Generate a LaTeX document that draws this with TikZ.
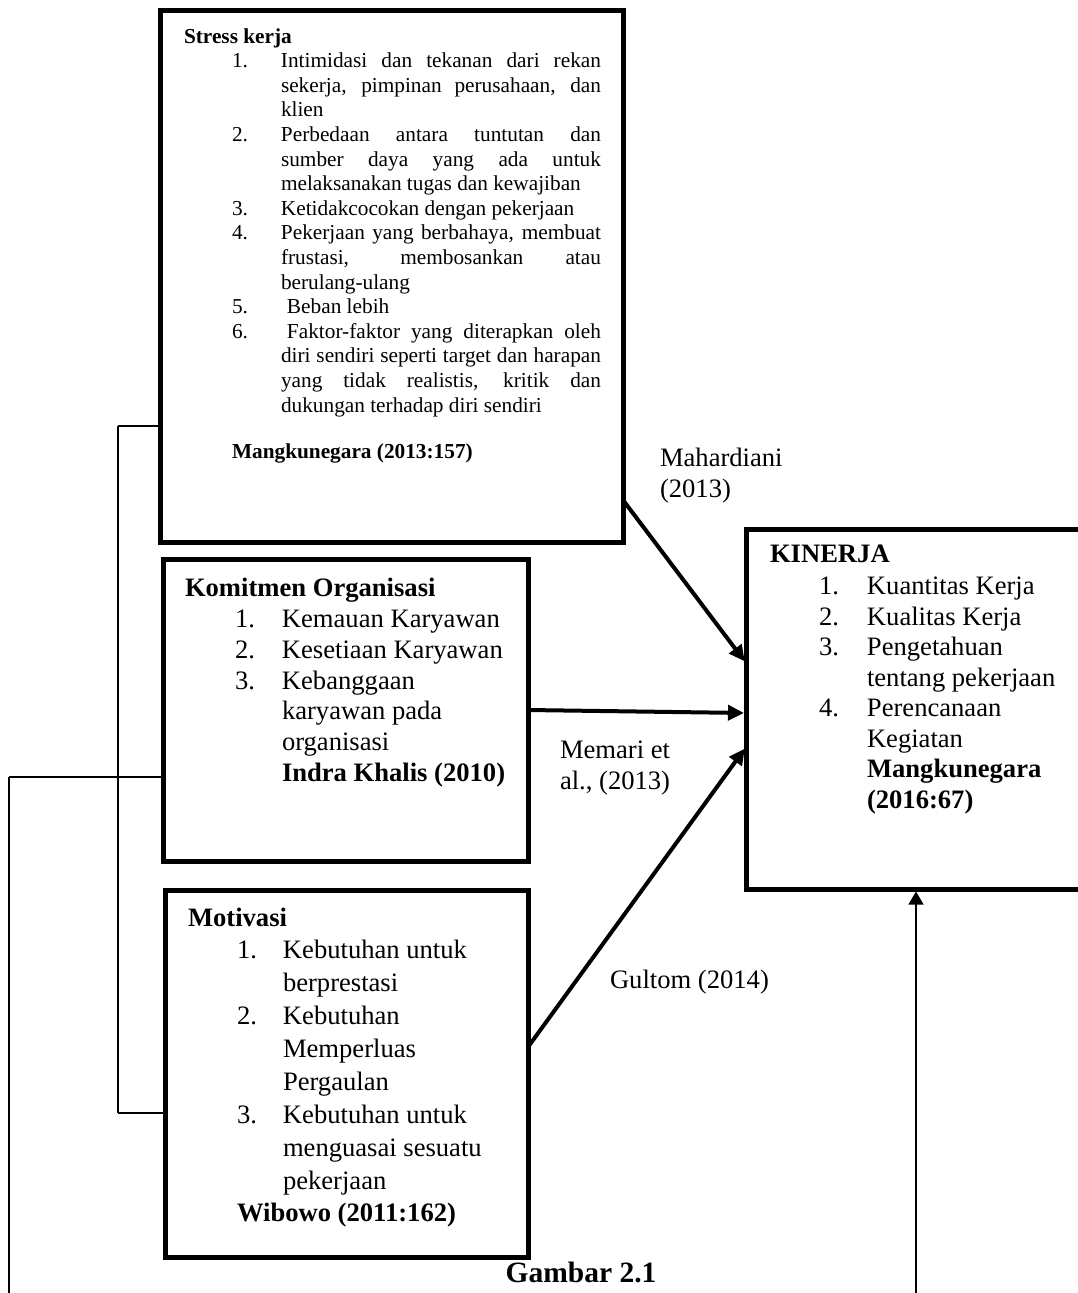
\documentclass[tikz,border=0pt]{standalone}
\usepackage{fontspec}
\setmainfont{Liberation Serif}
\usetikzlibrary{arrows.meta}
\newcommand\jl[1]{\makebox[320pt][s]{#1}}
\begin{document}
\begin{tikzpicture}[x=1pt,y=-1pt,
  boxnode/.style={draw, line width=5pt, rectangle, inner sep=0pt, outer sep=0pt, anchor=north west},
  txt/.style={anchor=north west, inner sep=0pt, outer sep=0pt},
  lbl/.style={anchor=base west, inner sep=0pt, outer sep=0pt, font=\fontsize{26.6}{30.7}\selectfont},
  thickarrow/.style={line width=4pt, -{Triangle[length=16pt,width=15pt]}, shorten >=2pt},
  thinarrow/.style={line width=1.3pt, -{Triangle[length=13pt,width=15pt]}, shorten >=2.5pt},
  hline/.style={line width=1.3pt},
  vline/.style={line width=2pt}
]
\clip (0,0) rectangle (1078,1293);
\fill[white] (0,0) rectangle (1078,1293);

% boxes
\node[boxnode, minimum width=463pt, minimum height=532pt] (stress) at (160,10) {};
\node[boxnode, minimum width=365pt, minimum height=302pt] (komit) at (163,559) {};
\node[boxnode, minimum width=363pt, minimum height=367pt] (motiv) at (165,890) {};
\node[boxnode, minimum width=337pt, minimum height=360pt] (kinerja) at (746,529) {};

% stress text
\node[txt] (stresstxt) at (184,25.78) {\fontsize{21.3}{24.6}\selectfont
\begin{tabular}{@{}p{48pt}@{}p{49pt}@{}l@{}}
\multicolumn{3}{@{}l@{}}{\bfseries Stress kerja}\\
 & 1. & \jl{Intimidasi dan tekanan dari rekan}\\
 & & \jl{sekerja, pimpinan perusahaan, dan}\\
 & & klien\\
 & 2. & \jl{Perbedaan antara tuntutan dan}\\
 & & \jl{sumber daya yang ada untuk}\\
 & & melaksanakan tugas dan kewajiban\\
 & 3. & Ketidakcocokan dengan pekerjaan\\
 & 4. & \jl{Pekerjaan yang berbahaya, membuat}\\
 & & \jl{frustasi, membosankan atau}\\
 & & berulang-ulang\\
 & 5. & \hspace{6pt}Beban lebih\\
 & 6. & \jl{\hspace{6pt}Faktor-faktor yang diterapkan oleh}\\
 & & \jl{diri sendiri seperti target dan harapan}\\
 & & \jl{yang tidak realistis, kritik dan}\\
 & & dukungan terhadap diri sendiri\\[21.4pt]
 & \multicolumn{2}{@{}l@{}}{\bfseries Mangkunegara (2013:157)}\\
\end{tabular}};

% komitmen text
\node[txt] (komittxt) at (185,575.5) {\fontsize{26.6}{30.7}\selectfont
\begin{tabular}{@{}p{50pt}@{}p{47pt}@{}l@{}}
\multicolumn{3}{@{}l@{}}{\bfseries Komitmen Organisasi}\\
 & 1. & Kemauan Karyawan\\
 & 2. & Kesetiaan Karyawan\\
 & 3. & Kebanggaan\\
 & & karyawan pada\\
 & & organisasi\\
 & & \bfseries Indra Khalis (2010)\\
\end{tabular}};

% motivasi text
\node[txt] (motivtxt) at (188,903.8) {\fontsize{26.6}{33.1}\selectfont
\begin{tabular}{@{}p{49pt}@{}p{46pt}@{}l@{}}
\multicolumn{3}{@{}l@{}}{\bfseries Motivasi}\\[-2pt]
 & 1. & Kebutuhan untuk\\
 & & berprestasi\\
 & 2. & Kebutuhan\\
 & & Memperluas\\
 & & Pergaulan\\
 & 3. & Kebutuhan untuk\\
 & & menguasai sesuatu\\
 & & pekerjaan\\[-1pt]
 & \multicolumn{2}{@{}l@{}}{\bfseries Wibowo (2011:162)}\\
\end{tabular}};

% kinerja text
\node[txt] (kinerjatxt) at (770,541.6) {\fontsize{26.6}{30.5}\selectfont
\begin{tabular}{@{}p{49pt}@{}p{48pt}@{}l@{}}
\multicolumn{3}{@{}l@{}}{\bfseries KINERJA}\\[1.5pt]
 & 1. & Kuantitas Kerja\\
 & 2. & Kualitas Kerja\\
 & 3. & Pengetahuan\\
 & & tentang pekerjaan\\
 & 4. & Perencanaan\\
 & & Kegiatan\\
 & & \bfseries Mangkunegara\\
 & & \bfseries (2016:67)\\
\end{tabular}};

% labels
\node[txt] (lmah) at (660,445.5) {\fontsize{26.6}{30.7}\selectfont
\begin{tabular}{@{}l@{}}Mahardiani\\(2013)\end{tabular}};
\node[txt] (lmem) at (560,736) {\fontsize{26.6}{31.5}\selectfont
\begin{tabular}{@{}l@{}}Memari et\\al., (2013)\end{tabular}};
\node[lbl] (lgul) at (610,988) {Gultom (2014)};
\node[anchor=base, inner sep=0pt, font=\fontsize{29.5}{33}\selectfont\bfseries] (gambar) at (581,1282) {Gambar 2.1};

% arrows to kinerja
\draw[thickarrow] (stress.east |- 0,500) -- (kinerja.west |- 0,663);
\draw[thickarrow] (komit.east |- 0,710) -- (kinerja.west |- 0,713);
\draw[thickarrow] (motiv.east |- 0,1047) -- (kinerja.west |- 0,747);
\coordinate (je) at (916,1293);
\draw[thinarrow] (je) -- (je |- kinerja.south);

% left connectors
\coordinate (ja) at (118,426);
\coordinate (jb) at (118,1113);
\coordinate (jc) at (9,777);
\coordinate (jd) at (9,1293);
\draw[hline] (stress.west |- ja) -- (ja);
\draw[vline] (ja) -- (jb);
\draw[hline] (jb) -- (motiv.west |- jb);
\draw[hline] (komit.west |- jc) -- (jc);
\draw[vline] (jc) -- (jd);
\end{tikzpicture}
\end{document}
